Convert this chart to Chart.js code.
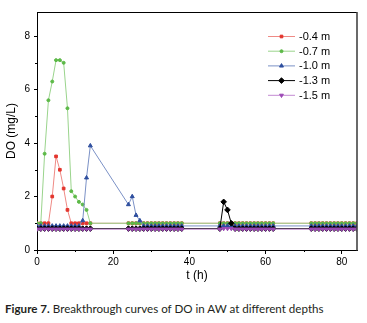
<!DOCTYPE html>
<html>
<head>
<meta charset="utf-8">
<script src="https://cdn.jsdelivr.net/npm/chart.js@4.4.1/dist/chart.umd.min.js"></script>
<style>
  html, body { margin: 0; padding: 0; background: #fff; }
  #wrap { position: relative; width: 367px; height: 323px; }
  #caption {
    position: absolute; left: 5px; top: 302px; white-space: nowrap;
    font: 11.6px Lato, "Noto Sans", sans-serif; line-height: 14px; color: #231f20;
  }
</style>
</head>
<body>
<div id="wrap">
  <canvas id="chart" width="367" height="290"></canvas>
  <div id="caption"><b>Figure 7.</b> Breakthrough curves of DO in AW at different depths</div>
</div>
<script>
// sampling times (h): four blocks of hourly readings
const HOURS = [
  0, 1, 2, 3, 4, 5, 6, 7, 8, 9, 10, 11, 12, 13, 14,
  24, 25, 26, 27, 28, 29, 30, 31, 32, 33, 34, 35, 36, 37, 38,
  48, 49, 50, 51, 52, 53, 54, 55, 56, 57, 58, 59, 60, 61, 62,
  72, 73, 74, 75, 76, 77, 78, 79, 80, 81, 82, 83, 84,
];

const DO_04 = [
  1.0, 1.0, 1.0, 1.0, 2.0, 3.5, 3.0, 2.3, 1.5, 1.0, 1.0, 1.0, 1.0, 1.0, 1.0,
  1.0, 1.0, 1.0, 1.0, 1.0, 1.0, 1.0, 1.0, 1.0, 1.0, 1.0, 1.0, 1.0, 1.0, 1.0,
  1.0, 1.0, 1.0, 1.0, 1.0, 1.0, 1.0, 1.0, 1.0, 1.0, 1.0, 1.0, 1.0, 1.0, 1.0,
  1.0, 1.0, 1.0, 1.0, 1.0, 1.0, 1.0, 1.0, 1.0, 1.0, 1.0, 1.0, 1.0,
];
const DO_07 = [
  1.0, 1.0, 3.6, 5.6, 6.3, 7.1, 7.1, 7.0, 5.3, 2.2, 2.0, 1.8, 1.7, 1.5, 1.0,
  1.0, 1.0, 1.0, 1.0, 1.0, 1.0, 1.0, 1.0, 1.0, 1.0, 1.0, 1.0, 1.0, 1.0, 1.0,
  1.0, 1.0, 1.0, 1.0, 1.0, 1.0, 1.0, 1.0, 1.0, 1.0, 1.0, 1.0, 1.0, 1.0, 1.0,
  1.0, 1.0, 1.0, 1.0, 1.0, 1.0, 1.0, 1.0, 1.0, 1.0, 1.0, 1.0, 1.0,
];
const DO_10 = [
  0.9, 0.9, 0.9, 0.9, 0.9, 0.9, 0.9, 0.9, 0.9, 0.9, 0.9, 0.9, 1.1, 2.7, 3.9,
  1.7, 2.0, 1.3, 1.1, 0.9, 0.9, 0.9, 0.9, 0.9, 0.9, 0.9, 0.9, 0.9, 0.9, 0.9,
  0.9, 0.9, 0.9, 0.9, 0.9, 0.9, 0.9, 0.9, 0.9, 0.9, 0.9, 0.9, 0.9, 0.9, 0.9,
  0.9, 0.9, 0.9, 0.9, 0.9, 0.9, 0.9, 0.9, 0.9, 0.9, 0.9, 0.9, 0.9,
];
const DO_13 = [
  0.8, 0.8, 0.8, 0.8, 0.8, 0.8, 0.8, 0.8, 0.8, 0.8, 0.8, 0.8, 0.8, 0.8, 0.8,
  0.8, 0.8, 0.8, 0.8, 0.8, 0.8, 0.8, 0.8, 0.8, 0.8, 0.8, 0.8, 0.8, 0.8, 0.8,
  0.8, 1.8, 1.5, 1.0, 0.8, 0.8, 0.8, 0.8, 0.8, 0.8, 0.8, 0.8, 0.8, 0.8, 0.8,
  0.8, 0.8, 0.8, 0.8, 0.8, 0.8, 0.8, 0.8, 0.8, 0.8, 0.8, 0.8, 0.8,
];
const DO_15 = [
  0.78, 0.78, 0.78, 0.78, 0.78, 0.78, 0.78, 0.78, 0.78, 0.78, 0.78, 0.78, 0.78, 0.78, 0.78,
  0.78, 0.78, 0.78, 0.78, 0.78, 0.78, 0.78, 0.78, 0.78, 0.78, 0.78, 0.78, 0.78, 0.78, 0.78,
  0.78, 0.8, 0.8, 0.8, 0.78, 0.78, 0.78, 0.78, 0.78, 0.78, 0.78, 0.78, 0.78, 0.78, 0.78,
  0.78, 0.78, 0.78, 0.78, 0.78, 0.78, 0.78, 0.78, 0.78, 0.78, 0.78, 0.78, 0.78,
];

const X_TICKS = [0, 10, 20, 30, 40, 50, 60, 70, 80];
const Y_TICKS = [0, 1, 2, 3, 4, 5, 6, 7, 8];

const FONT = 'Liberation Sans, Arial, sans-serif';

// later depths are painted over the earlier ones, as in the original plot
function series(label, values, line, marker, style, radius, order, extra = {}) {
  return {
    label,
    data: HOURS.map((t, i) => ({ x: t, y: values[i] })),
    order,
    borderColor: line,
    borderWidth: 1,
    pointBackgroundColor: marker,
    pointBorderColor: marker,
    pointBorderWidth: 1,
    pointStyle: style,
    pointRadius: radius,
    tension: 0,
    ...extra,
  };
}

// minor ticks + closing frame on top/right
const frame = {
  id: 'frame',
  afterDraw(chart) {
    const { ctx, chartArea: a, scales } = chart;
    ctx.save();
    ctx.strokeStyle = '#000';
    ctx.lineWidth = 1;
    ctx.beginPath();
    X_TICKS.filter((v) => v % 20 !== 0).forEach((v) => {
      const x = Math.round(scales.x.getPixelForValue(v)) + 0.5;
      ctx.moveTo(x, a.bottom);
      ctx.lineTo(x, a.bottom + 2);
    });
    Y_TICKS.filter((v) => v % 2 !== 0).forEach((v) => {
      const y = Math.round(scales.y.getPixelForValue(v)) + 0.5;
      ctx.moveTo(a.left, y);
      ctx.lineTo(a.left - 2, y);
    });
    ctx.moveTo(a.left, a.top + 0.5);
    ctx.lineTo(a.right, a.top + 0.5);
    ctx.stroke();
    ctx.strokeStyle = '#444';
    ctx.lineWidth = 1.6;
    ctx.beginPath();
    ctx.moveTo(a.right, a.top);
    ctx.lineTo(a.right, a.bottom + 0.5);
    ctx.stroke();
    ctx.restore();
  },
};

// legend inside the plot, line sample with marker
const insideLegend = {
  id: 'insideLegend',
  afterDraw(chart) {
    const { ctx } = chart;
    ctx.save();
    ctx.font = `11px ${FONT}`;
    ctx.textBaseline = 'middle';
    chart.data.datasets.forEach((ds, i) => {
      const y = 36.5 + i * 14.7;
      ctx.strokeStyle = ds.borderColor;
      ctx.lineWidth = 1;
      ctx.beginPath();
      ctx.moveTo(268, y);
      ctx.lineTo(295, y);
      ctx.stroke();
      ctx.fillStyle = ds.pointBackgroundColor;
      ctx.strokeStyle = ds.pointBorderColor;
      Chart.helpers.drawPoint(ctx, {
        pointStyle: ds.pointStyle,
        radius: ds.pointRadius,
        rotation: ds.pointRotation || 0,
        borderWidth: 1,
      }, 281.5, y);
      ctx.fillStyle = '#000';
      ctx.fillText(ds.label, 299, y + 0.5);
    });
    ctx.restore();
  },
};

new Chart(document.getElementById('chart'), {
  type: 'line',
  data: {
    datasets: [
      series('-0.4 m', DO_04, '#ef8a85', '#e3342c', 'rect', 1.9, 5),
      series('-0.7 m', DO_07, '#9ad48c', '#5cb947', 'circle', 1.5, 4),
      series('-1.0 m', DO_10, '#7b91c6', '#2e4e9e', 'triangle', 2.3, 3),
      series('-1.3 m', DO_13, '#000000', '#000000', 'rectRot', 2.8, 2),
      series('-1.5 m', DO_15, '#c48ad2', '#9c48b5', 'triangle', 2.2, 1, { pointRotation: 180 }),
    ],
  },
  options: {
    responsive: false,
    animation: false,
    devicePixelRatio: 1,
    layout: { padding: { top: 12, right: 10, left: 0, bottom: 0 } },
    plugins: { legend: { display: false }, tooltip: { enabled: false } },
    scales: {
      x: {
        type: 'linear',
        min: 0,
        max: 84,
        afterBuildTicks: (s) => { s.ticks = X_TICKS.map((value) => ({ value })); },
        afterFit: (s) => { s.height = 40; },
        ticks: {
          autoSkip: false,
          maxRotation: 0,
          padding: 2,
          color: '#000',
          font: { family: FONT, size: 10 },
          callback: (v) => (v % 20 === 0 ? v : ''),
        },
        grid: {
          drawOnChartArea: false,
          tickLength: 4,
          tickColor: (c) => (c.tick && c.tick.value % 20 === 0 ? '#000' : 'rgba(0,0,0,0)'),
        },
        border: { color: '#000', width: 1 },
        title: {
          display: true,
          text: 't (h)',
          color: '#000',
          font: { family: FONT, size: 12 },
          padding: { top: 0, bottom: 7 },
        },
      },
      y: {
        min: 0,
        max: 8.9,
        afterBuildTicks: (s) => { s.ticks = Y_TICKS.map((value) => ({ value })); },
        afterFit: (s) => { s.width = 37; },
        ticks: {
          padding: 4,
          color: '#000',
          font: { family: FONT, size: 10 },
          callback: (v) => (v % 2 === 0 ? v : ''),
        },
        grid: {
          drawOnChartArea: false,
          tickLength: 3,
          tickColor: (c) => (c.tick && c.tick.value % 2 === 0 ? '#000' : 'rgba(0,0,0,0)'),
        },
        border: { color: '#000', width: 1 },
        title: {
          display: true,
          text: 'DO (mg/L)',
          color: '#000',
          font: { family: FONT, size: 12 },
          padding: { top: 4, bottom: 4 },
        },
      },
    },
  },
  plugins: [frame, insideLegend],
});
</script>
</body>
</html>
